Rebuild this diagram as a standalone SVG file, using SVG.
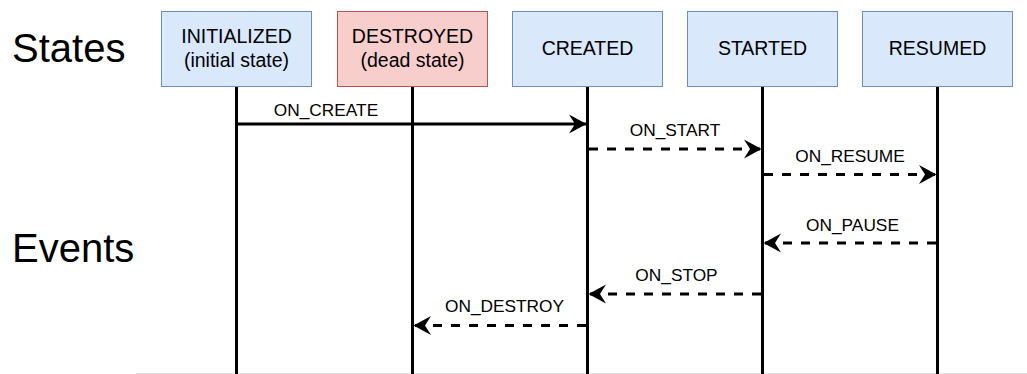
<svg xmlns="http://www.w3.org/2000/svg" width="1027" height="374" viewBox="0 0 1027 374">
  <style>
    text { font-family: "Liberation Sans", Arial, sans-serif; fill: #000; }
    .title { font-size: 40px; }
    .state { font-size: 19.5px; text-anchor: middle; }
    .event { font-size: 17.3px; text-anchor: middle; }
    .box-live { fill: #dae8fc; stroke: #6c8ebf; stroke-width: 1; }
    .box-dead { fill: #f8cecc; stroke: #b85450; stroke-width: 1; }
    .lifeline { stroke: #000; stroke-width: 3; fill: none; }
    .msg { stroke: #000; stroke-width: 3; fill: none; }
    .dashed { stroke-dasharray: 9 9; }
  </style>
  <defs>
    <marker id="arrow" markerUnits="userSpaceOnUse" markerWidth="20" markerHeight="22" viewBox="-18 -11 20 22" refX="0" refY="0" orient="auto">
      <path d="M0,0 L-17.5,-9.5 L-11.5,0 L-17.5,9.5 Z" fill="#000"/>
    </marker>
  </defs>

  <rect width="1027" height="374" fill="#fff"/>
  <line x1="136" y1="373.5" x2="1027" y2="373.5" stroke="#e0e0e0" stroke-width="1"/>

  <!-- Row captions -->
  <text class="title" x="12" y="62">States</text>
  <text class="title" x="12" y="262">Events</text>

  <!-- States with their lifelines -->
  <g id="initialized">
    <line class="lifeline" x1="236.5" y1="86.5" x2="236.5" y2="374"/>
    <rect class="box-live" x="161.5" y="11.5" width="150" height="75"/>
    <text class="state" x="236.5" y="43">INITIALIZED</text>
    <text class="state" x="236.5" y="66.5">(initial state)</text>
  </g>
  <g id="destroyed">
    <line class="lifeline" x1="412.5" y1="86.5" x2="412.5" y2="374"/>
    <rect class="box-dead" x="337.5" y="11.5" width="150" height="75"/>
    <text class="state" x="412.5" y="43">DESTROYED</text>
    <text class="state" x="412.5" y="66.5">(dead state)</text>
  </g>
  <g id="created">
    <line class="lifeline" x1="587.5" y1="86.5" x2="587.5" y2="374"/>
    <rect class="box-live" x="512.5" y="11.5" width="150" height="75"/>
    <text class="state" x="587.5" y="55">CREATED</text>
  </g>
  <g id="started">
    <line class="lifeline" x1="762.5" y1="86.5" x2="762.5" y2="374"/>
    <rect class="box-live" x="687.5" y="11.5" width="150" height="75"/>
    <text class="state" x="762.5" y="55">STARTED</text>
  </g>
  <g id="resumed">
    <line class="lifeline" x1="937.5" y1="86.5" x2="937.5" y2="374"/>
    <rect class="box-live" x="862.5" y="11.5" width="150" height="75"/>
    <text class="state" x="937.5" y="55">RESUMED</text>
  </g>

  <!-- Lifecycle events -->
  <g id="connectors">
    <line class="msg" x1="238" y1="124" x2="586.5" y2="124" marker-end="url(#arrow)"/>
    <text class="event" x="326" y="116">ON_CREATE</text>

    <line class="msg dashed" x1="589" y1="149" x2="761.5" y2="149" marker-end="url(#arrow)"/>
    <text class="event" x="675" y="136">ON_START</text>

    <line class="msg dashed" x1="764" y1="174.5" x2="936.5" y2="174.5" marker-end="url(#arrow)"/>
    <text class="event" x="850" y="161.5">ON_RESUME</text>

    <line class="msg dashed" x1="936" y1="243" x2="763.5" y2="243" marker-end="url(#arrow)"/>
    <text class="event" x="852.5" y="230.5">ON_PAUSE</text>

    <line class="msg dashed" x1="761" y1="294" x2="588.5" y2="294" marker-end="url(#arrow)"/>
    <text class="event" x="676.5" y="280.5">ON_STOP</text>

    <line class="msg dashed" x1="586" y1="325.5" x2="413.5" y2="325.5" marker-end="url(#arrow)"/>
    <text class="event" x="504.5" y="312">ON_DESTROY</text>
  </g>
</svg>
